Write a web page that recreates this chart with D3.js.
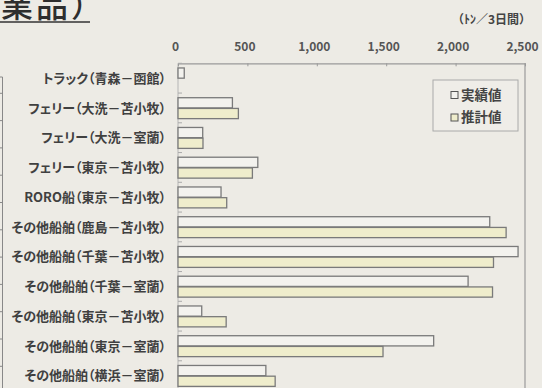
<!DOCTYPE html>
<html>
<head>
<meta charset="utf-8">
<script src="https://cdn.jsdelivr.net/npm/d3@7"></script>
<style>
  html, body { margin: 0; padding: 0; background: #edebe5; }
  svg { display: block; }
  text { font-family: "Noto Sans CJK JP", "Noto Sans", sans-serif; }
  .palt { font-feature-settings: "palt" 1; }
</style>
</head>
<body>
<svg id="chart" width="542" height="388"></svg>
<script>
// Routes (one row each, top to bottom)
const categories = [
  "トラック（青森－函館）",
  "フェリー（大洗－苫小牧）",
  "フェリー（大洗－室蘭）",
  "フェリー（東京－苫小牧）",
  "RORO船（東京－苫小牧）",
  "その他船舶（鹿島－苫小牧）",
  "その他船舶（千葉－苫小牧）",
  "その他船舶（千葉－室蘭）",
  "その他船舶（東京－苫小牧）",
  "その他船舶（東京－室蘭）",
  "その他船舶（横浜－室蘭）"
];
const seriesNames = ["実績値", "推計値"];
// Tonnage per 3 days
const actualValues    = [45, 392, 178, 575, 310, 2246, 2450, 2090, 171, 1842, 633];
const estimatedValues = [0, 435, 180, 536, 351, 2364, 2273, 2266, 347, 1477, 700];
const tickValues = [0, 500, 1000, 1500, 2000, 2500];
const titleText = "業品）";
const unitText = "（ﾄﾝ／3日間）";

const colors = { "実績値": "#f3f2ee", "推計値": "#efedcc" };

const svg = d3.select("#chart");

// Heading (continues off the left edge)
svg.append("text")
  .attr("x", 1).attr("y", 17)
  .attr("font-size", 32).attr("fill", "#2e2e2e")
  .attr("font-weight", 500)
  .attr("letter-spacing", 3)
  .text(titleText);
svg.append("line")
  .attr("x1", 0).attr("x2", 90).attr("y1", 22).attr("y2", 22)
  .attr("stroke", "#333").attr("stroke-width", 1.6);

// Edge of the neighbouring chart
const sideScale = d3.scaleLinear().domain([0, 11]).range([93.3, 393.6]);
const side = svg.append("g").attr("transform", "translate(2.5,0)");
side.append("line").attr("x1", -3).attr("x2", 0).attr("y1", 77).attr("y2", 77).attr("stroke", "#888");
side.append("line").attr("x1", 0).attr("x2", 0).attr("y1", 77).attr("y2", 388).attr("stroke", "#888");
side.selectAll("line.t").data(d3.range(0, 11)).join("line").attr("class", "t")
  .attr("x1", -3).attr("x2", 0)
  .attr("y1", d => sideScale(d)).attr("y2", d => sideScale(d))
  .attr("stroke", "#888");

// Plot geometry
const plotLeft = 178, plotRight = 525, plotTop = 63.3;
const step = 29.75;
const pIn = 0.28;
const x = d3.scaleLinear().domain([0, 2500]).range([plotLeft, plotRight]);
const y = d3.scaleBand().domain(categories)
  .range([plotTop, plotTop + step * 11]).paddingInner(pIn).paddingOuter(pIn / 2);
const y1 = d3.scaleBand().domain(seriesNames).range([0, y.bandwidth()]);

// Plot frame
svg.append("line").attr("x1", plotRight).attr("x2", plotRight).attr("y1", plotTop).attr("y2", 388)
  .attr("stroke", "#9a9a9a").attr("stroke-width", 1.2);
svg.append("line").attr("x1", plotLeft).attr("x2", plotLeft).attr("y1", plotTop).attr("y2", 388)
  .attr("stroke", "#b5b5b5").attr("stroke-width", 1);

// Value axis along the top
const xAxis = svg.append("g").attr("transform", `translate(0,${plotTop})`)
  .call(d3.axisTop(x).tickValues(tickValues).tickFormat(d3.format(","))
    .tickSizeInner(-3).tickSizeOuter(0).tickPadding(12));
xAxis.select(".domain").attr("stroke", "#9a9a9a").attr("stroke-width", 1.2);
xAxis.selectAll(".tick line").attr("stroke", "#9a9a9a");
xAxis.selectAll(".tick text")
  .attr("font-size", 12).attr("fill", "#555").attr("font-weight", "bold")
  .attr("dx", -3)
  .attr("font-family", "'Liberation Sans', Arial, sans-serif");

// Category ticks at band boundaries
svg.append("g").selectAll("line")
  .data(d3.range(0, 12))
  .join("line")
  .attr("x1", plotLeft).attr("x2", plotLeft + 4)
  .attr("y1", d => plotTop + d * step).attr("y2", d => plotTop + d * step)
  .attr("stroke", "#aaa");

// Category labels
svg.append("g").selectAll("text")
  .data(categories)
  .join("text")
  .attr("class", "palt")
  .attr("x", 166)
  .attr("y", d => y(d) + y.bandwidth() / 2)
  .attr("dy", "0.36em")
  .attr("text-anchor", "end")
  .attr("font-size", 13).attr("font-weight", "bold").attr("fill", "#404040")
  .text(d => d);

// Bars
const rows = categories.map((c, i) => ({
  cat: c,
  vals: [
    { key: seriesNames[0], value: actualValues[i] },
    { key: seriesNames[1], value: estimatedValues[i] }
  ]
}));
svg.append("g").selectAll("g")
  .data(rows)
  .join("g")
  .attr("transform", d => `translate(0,${y(d.cat)})`)
  .selectAll("rect")
  .data(d => d.vals.filter(v => v.value > 0))
  .join("rect")
  .attr("x", x(0))
  .attr("y", d => y1(d.key) + 0.5)
  .attr("width", d => x(d.value) - x(0))
  .attr("height", y1.bandwidth() - 0.5)
  .attr("fill", d => colors[d.key])
  .attr("stroke", "#7a7a7a").attr("stroke-width", 1.3);

// Legend
const legend = svg.append("g").attr("transform", "translate(433,80)");
legend.append("rect").attr("width", 85).attr("height", 51)
  .attr("fill", "#efede8").attr("stroke", "#aaa").attr("stroke-width", 1);
const items = legend.selectAll("g.item").data(seriesNames).join("g")
  .attr("class", "item")
  .attr("transform", (d, i) => `translate(18,${15 + i * 22.5})`);
items.append("rect").attr("x", 0).attr("y", -3.5).attr("width", 7).attr("height", 7)
  .attr("fill", d => colors[d]).attr("stroke", "#555").attr("stroke-width", 1);
items.append("text").attr("x", 10).attr("y", 0).attr("dy", "0.36em")
  .attr("font-size", 13.5).attr("font-weight", "bold").attr("fill", "#444")
  .text(d => d);

// Unit label
svg.append("text").attr("x", 531).attr("y", 24)
  .attr("text-anchor", "end")
  .attr("font-size", 12).attr("font-weight", "bold").attr("fill", "#444")
  .text(unitText);
</script>
</body>
</html>
